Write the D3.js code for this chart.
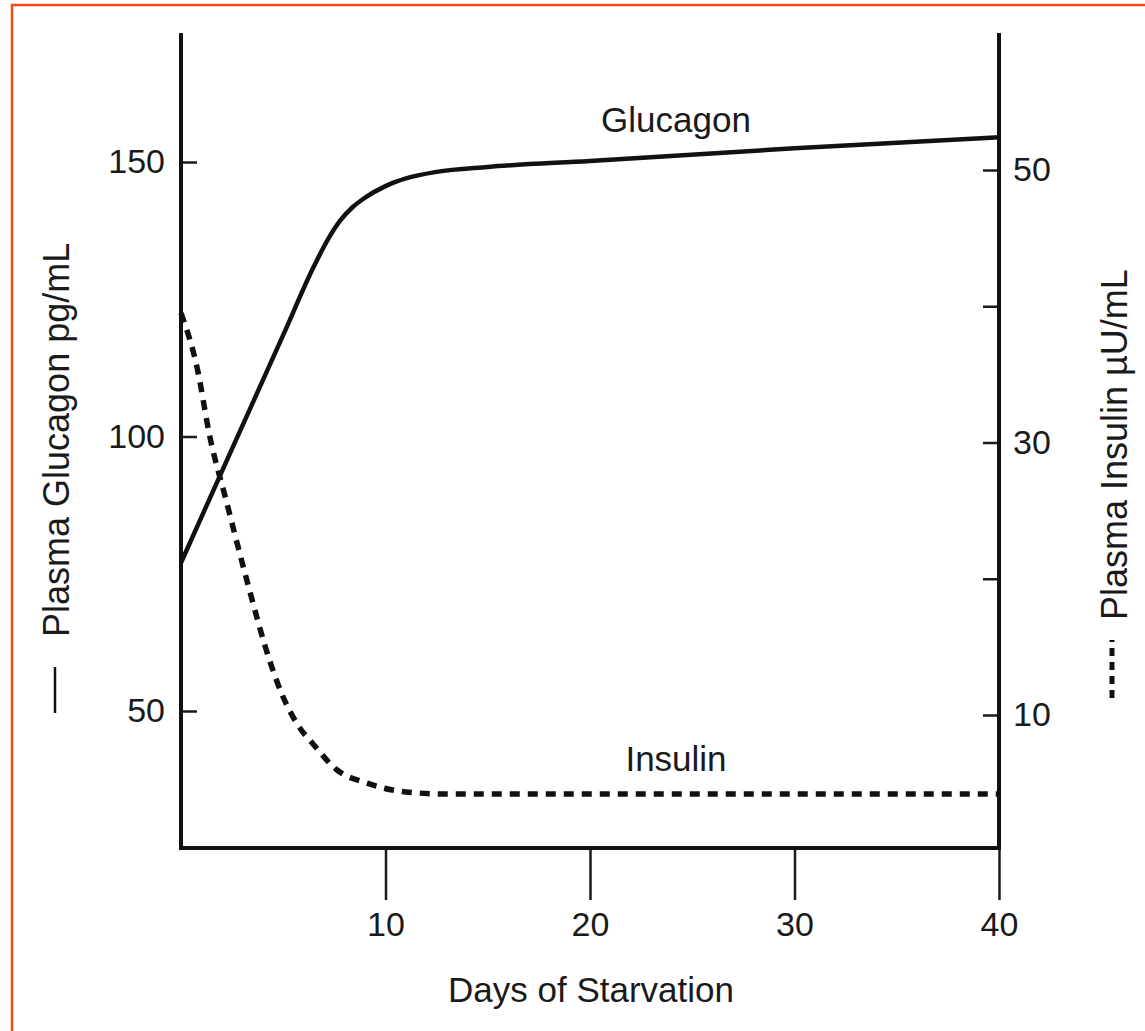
<!DOCTYPE html>
<html>
<head>
<meta charset="utf-8">
<script src="https://cdn.jsdelivr.net/npm/d3@7"></script>
<style>
  body { margin: 0; background: #fff; }
  text { font-family: "Liberation Sans", Arial, Helvetica, sans-serif; fill: #1a1a1a; }
</style>
</head>
<body>
<div id="chart"></div>
<script>
// values
var days = [0, 2.5, 5, 6.5, 7.2, 7.8, 8.4, 9, 10, 11, 12.5, 15, 20, 30, 40];
var glucagon = [77, 97.8, 118.5, 131, 136, 139.4, 141.8, 143.5, 145.6, 147, 148.2, 149.1, 150.2, 152.5, 154.5];

var insulinDays = [0, 0.8, 1.4, 2.2, 3.2, 4.4, 5, 5.7, 6.5, 7.6, 9.1, 11, 13, 40];
var insulin = [39.5, 35.4, 30.5, 25.8, 20, 13.7, 11.3, 9.3, 7.8, 6.0, 5.0, 4.35, 4.2, 4.2];

var xTicks = [10, 20, 30, 40];
var leftTicks = [50, 100, 150];
var rightTicks = [10, 20, 30, 40, 50];
var rightLabels = [10, 30, 50];

var width = 1145,
  height = 1031,
  plotLeft = 181,
  plotRight = 999,
  plotTop = 33,
  plotBottom = 848;

var svg = d3
  .select("#chart")
  .append("svg")
  .attr("width", width)
  .attr("height", height);

// orange frame, cut off on the right and bottom
svg
  .append("rect")
  .attr("x", 12)
  .attr("y", 5)
  .attr("width", width)
  .attr("height", height)
  .attr("fill", "none")
  .attr("stroke", "#f4471c")
  .attr("stroke-width", 2.5);

var x = d3.scaleLinear().domain([0, 40]).range([plotLeft, plotRight]);
var yL = d3.scaleLinear().domain([50, 150]).range([711, 162]);
var yR = d3.scaleLinear().domain([10, 50]).range([715, 170]);

// axes
var xAxis = d3
  .axisBottom(x)
  .tickValues(xTicks)
  .tickSizeInner(52)
  .tickSizeOuter(0)
  .tickPadding(12);

var leftAxis = d3
  .axisLeft(yL)
  .tickValues(leftTicks)
  .tickSizeInner(-16)
  .tickSizeOuter(0)
  .tickPadding(16);

var rightAxis = d3
  .axisRight(yR)
  .tickValues(rightTicks)
  .tickSizeInner(-16)
  .tickSizeOuter(0)
  .tickPadding(14)
  .tickFormat((d) => (rightLabels.indexOf(d) >= 0 ? d : ""));

var gx = svg
  .append("g")
  .attr("transform", "translate(0," + plotBottom + ")")
  .call(xAxis);
var gl = svg
  .append("g")
  .attr("transform", "translate(" + plotLeft + ",0)")
  .call(leftAxis);
var gr = svg
  .append("g")
  .attr("transform", "translate(" + plotRight + ",0)")
  .call(rightAxis);

[gx, gl, gr].forEach((g) => {
  g.select(".domain").remove();
  g.selectAll(".tick line").attr("stroke", "#1a1a1a").attr("stroke-width", 2.5);
  g.selectAll(".tick text")
    .style("font-size", "34px")
    .style("font-family", "Liberation Sans, Arial, sans-serif")
    .attr("fill", "#1a1a1a");
});

// axis frame lines
var frame = svg.append("g").attr("stroke", "#111").attr("stroke-width", 4);
frame.append("line").attr("x1", plotLeft).attr("x2", plotLeft).attr("y1", plotTop).attr("y2", plotBottom + 2);
frame.append("line").attr("x1", plotRight).attr("x2", plotRight).attr("y1", plotTop).attr("y2", plotBottom + 2);
frame.append("line").attr("x1", plotLeft - 2).attr("x2", plotRight + 2).attr("y1", plotBottom).attr("y2", plotBottom);

// lines
var glucLine = d3
  .line()
  .x((d, i) => x(days[i]))
  .y((d) => yL(d))
  .curve(d3.curveMonotoneX);

var insLine = d3
  .line()
  .x((d, i) => x(insulinDays[i]))
  .y((d) => yR(d))
  .curve(d3.curveMonotoneX);

svg
  .append("path")
  .datum(glucagon)
  .attr("d", glucLine)
  .attr("fill", "none")
  .attr("stroke", "#111")
  .attr("stroke-width", 4.5);

svg
  .append("path")
  .datum(insulin)
  .attr("d", insLine)
  .attr("fill", "none")
  .attr("stroke", "#111")
  .attr("stroke-width", 5.5)
  .attr("stroke-dasharray", "10,8");

// series labels
svg
  .append("text")
  .attr("x", 676)
  .attr("y", 132)
  .attr("text-anchor", "middle")
  .style("font-size", "35px")
  .text("Glucagon");

svg
  .append("text")
  .attr("x", 676)
  .attr("y", 771)
  .attr("text-anchor", "middle")
  .style("font-size", "35px")
  .text("Insulin");

// x axis title
svg
  .append("text")
  .attr("x", 591)
  .attr("y", 1002)
  .attr("text-anchor", "middle")
  .style("font-size", "35px")
  .text("Days of Starvation");

// left axis title with solid line key
svg
  .append("line")
  .attr("x1", 55)
  .attr("x2", 55)
  .attr("y1", 667)
  .attr("y2", 713)
  .attr("stroke", "#111")
  .attr("stroke-width", 2.5);

svg
  .append("text")
  .attr("transform", "translate(69,637) rotate(-90)")
  .style("font-size", "36px")
  .text("Plasma Glucagon pg/mL");

// right axis title with dashed key
svg
  .append("line")
  .attr("x1", 1112)
  .attr("x2", 1112)
  .attr("y1", 698)
  .attr("y2", 640)
  .attr("stroke", "#111")
  .attr("stroke-width", 5)
  .attr("stroke-dasharray", "8,6");

svg
  .append("text")
  .attr("transform", "translate(1127,620) rotate(-90)")
  .style("font-size", "36px")
  .text("Plasma Insulin µU/mL");
</script>
</body>
</html>
